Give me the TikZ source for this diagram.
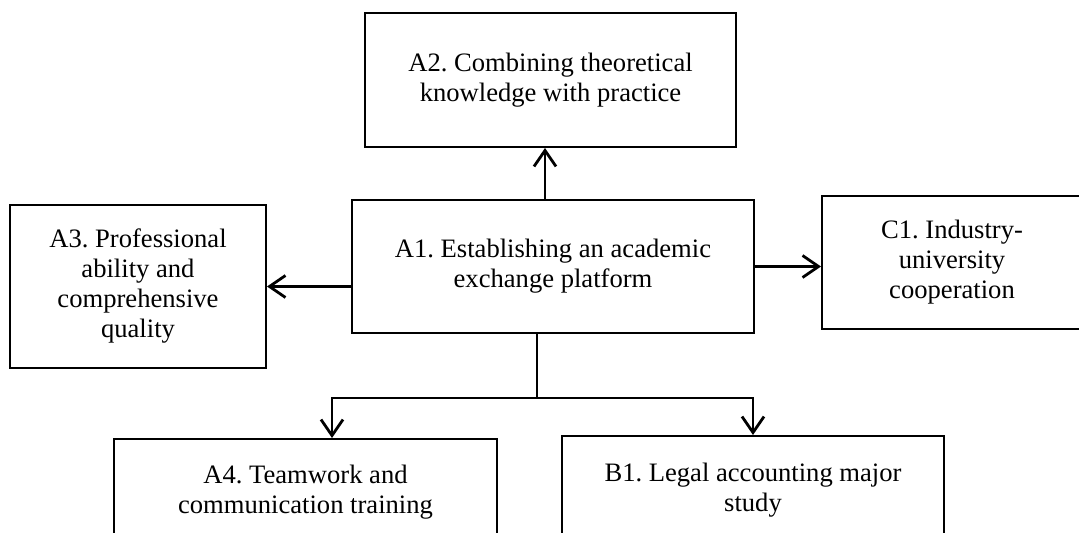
\documentclass[tikz,border=0pt]{standalone}
\usepackage{fontspec}
\setmainfont{Liberation Serif}
\frenchspacing
\usetikzlibrary{arrows.meta,positioning,calc}
\tikzset{
  flow/box/.style={draw, line width=1pt, align=center, inner sep=0pt, font=\fontsize{13.3}{15}\selectfont},
  flow/line/.style={line width=1.4pt},
  flow/arrow/.style={flow/line, -{Straight Barb[length=8pt,width=11pt,line width=1.4pt]}}
}

\begin{document}
\begin{tikzpicture}[x=0.5pt,y=-0.5pt]
  \useasboundingbox (0,0) rectangle (1079,533);
  \node[flow/box, minimum width=185.5pt, minimum height=67pt] (a2) at (550.5,80) {A2. Combining theoretical\\knowledge with practice};
  \node[flow/box, minimum width=201pt, minimum height=66.5pt] (a1) at (553,266.5) {A1. Establishing an academic\\exchange platform};
  \node[flow/box, minimum width=128pt, minimum height=81.5pt] (a3) at (138,286.5) {A3. Professional\\ability and\\comprehensive\\quality};
  \node[flow/box, minimum width=130pt, minimum height=66.5pt] (c1) at (952,262.5) {C1. Industry-\\university\\cooperation};
  \node[flow/box, minimum width=191.5pt, minimum height=53pt] (a4) at (305.5,492) {A4. Teamwork and\\communication training};
  \node[flow/box, minimum width=191pt, minimum height=54pt] (b1) at (753,490) {B1. Legal accounting major\\study};

  \coordinate (fork) at (537,398);
  \coordinate (lft) at (332,398);
  \coordinate (rgt) at (753,398);

  \draw[flow/arrow] ([xshift=-4pt]a1.north) -- ([xshift=-4pt]a1.north |- a2.south);
  \draw[flow/arrow] (a1.west |- a3.east) -- (a3.east);
  \draw[flow/arrow] (a1.east) -- (c1.west |- a1.east);
  \draw[flow/line] ([xshift=-8pt]a1.south) -- (fork);
  \draw[flow/arrow] (fork) -- (lft) -- (lft |- a4.north);
  \draw[flow/arrow] (fork) -- (rgt) -- (rgt |- b1.north);
\end{tikzpicture}
\end{document}
